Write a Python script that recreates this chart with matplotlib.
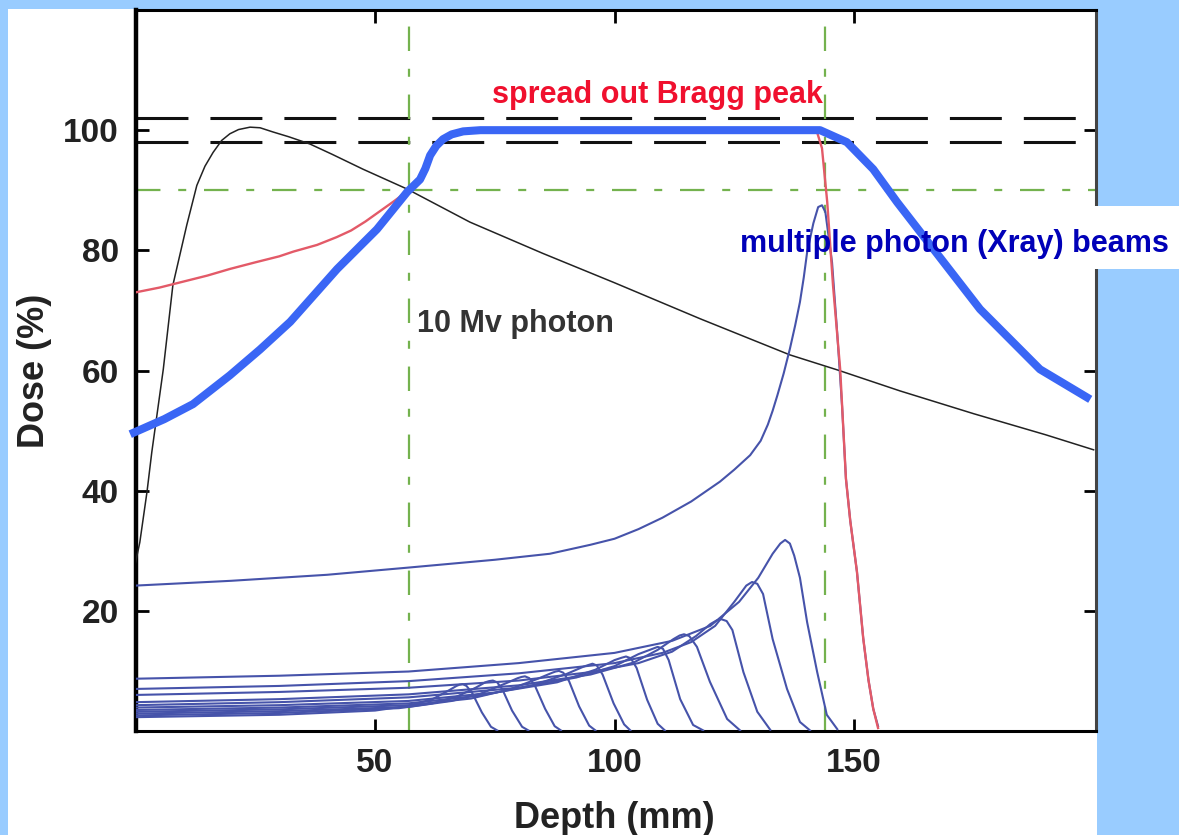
import matplotlib
matplotlib.use("Agg")
from matplotlib import pyplot as plt
from matplotlib.patches import Rectangle

# 10 MV photon depth dose
photon_depth = [0, 0.9, 2.4, 3.4, 5.8, 7.8, 10.7, 12.8, 14.5, 16.2, 18, 19.7, 21.5, 23.9, 26,
                28.7, 32, 36.4, 41, 47.5, 56.7, 69.8, 85, 100, 117.9, 136.6, 146.5, 159.6,
                175, 190, 200]
photon_dose = [28, 31.4, 39.8, 46.4, 60.2, 74.2, 84.2, 90.8, 94.0, 96.3, 98.3, 99.4, 100.1, 100.5,
               100.4, 99.7, 98.9, 97.7, 96.0, 93.5, 90.2, 84.7, 79.5, 74.6, 68.6, 62.6, 60.1,
               56.6, 52.8, 49.3, 46.8]

# spread out Bragg peak (red)
sobp_depth = [0, 5, 10, 15, 19.7, 25, 30, 33, 37.9, 42, 45, 48, 51.7, 54, 55.5, 57.5, 59, 60,
              61, 62, 63, 64, 65, 66, 67.5, 69, 80, 90, 100, 110, 120, 130, 140, 142.3, 143.3,
              144.4, 145.6, 147.1, 148.3, 149.2, 150.6, 151.9, 153, 154, 155]
sobp_dose = [73, 73.8, 74.8, 75.8, 76.9, 78, 79, 79.8, 80.9, 82.2, 83.3, 84.8, 86.9, 88.2, 89.1,
             90.3, 91.6, 93, 94.6, 96, 97.3, 98.3, 98.9, 99.4, 99.8, 100, 100, 100.2, 99.8, 100,
             100, 100, 100, 99.6, 97, 88, 74.2, 60.2, 42, 35, 26.5, 15.5, 8.5, 3.7, 0.5]

# hand drawn photon envelope (thick blue)
xray_depth = [-1.1, 6, 12.0, 19.7, 26, 32.3, 42.1, 50.4, 56.7, 59.4, 60.5, 61.5, 62.8, 64.2,
              66, 68.4, 72, 142.9, 148.5, 154, 159, 165.9, 176.3, 188.8, 199.3]
xray_dose = [49.4, 51.9, 54.4, 59.2, 63.5, 68.1, 76.9, 83.5, 89.7, 91.8, 93.6, 95.8, 97.4, 98.5,
             99.3, 99.8, 100, 100, 98.0, 93.5, 88, 80.9, 70.2, 60.2, 55.2]

# pristine Bragg peaks (thin blue), deepest first
bragg_depth = [
    [0, 20, 40, 57, 75, 86.5, 95, 100, 105, 110, 116, 122, 125, 128.3, 130.5, 132, 133, 134,
     135.3, 136.6, 137.7, 138.7, 139.5, 140.2, 141.5, 142.5, 143.3, 144, 145.4, 146.5, 147.5,
     148.3, 149.2, 150.6, 151.9, 153, 154, 155],
    [0, 30, 57, 80, 100, 112, 120, 126, 130, 133, 134.6, 135.6, 136.6, 137.5, 138.7, 140.2,
     142.3, 144.3, 146.5],
    [0, 30, 57, 80, 100, 110, 116, 121, 125, 127.5, 128.7, 129.8, 131, 133, 136, 138.7, 140.8],
    [0, 30, 57, 80, 95, 105, 112, 117, 120, 121.3, 122.3, 123.4, 124.6, 126.9, 129.8, 132.5],
    [0, 30, 57, 80, 95, 104, 109, 112.3, 113.6, 114.5, 115.6, 117.2, 119.9, 123.5, 126.2],
    [0, 30, 57, 80, 92, 100, 105, 108, 109, 110.1, 111.3, 113.7, 116.4, 118.5],
    [0, 30, 57, 75, 88, 96, 100, 101.5, 102.4, 103.4, 104.6, 106.8, 109, 110.5],
    [0, 30, 57, 72, 83, 90, 93.5, 94.6, 95.4, 96.3, 97.5, 99.8, 102, 103.3],
    [0, 30, 57, 70, 78, 84, 87, 87.7, 88.4, 89.3, 90.5, 92.6, 94.7, 96],
    [0, 30, 57, 66, 72, 77.5, 79.8, 80.6, 81.3, 82.2, 83.4, 85.5, 87.5, 88.8],
    [0, 30, 55, 62, 67, 71, 73, 73.8, 74.6, 75.5, 76.6, 78.6, 80.7, 82],
    [0, 30, 50, 57, 62, 65.5, 67, 67.6, 68.3, 69.1, 70.3, 72.3, 74.2, 75.5],
]
bragg_dose = [
    [24.2, 25.0, 26.0, 27.2, 28.5, 29.5, 31.0, 32, 33.6, 35.5, 38.2, 41.5, 43.5, 45.9, 48.3, 51,
     53.3, 55.9, 59.5, 63.6, 67.5, 71.4, 75.5, 79.7, 84.5, 87.2, 87.5, 86.4, 78, 66, 54, 42, 35,
     26.5, 15.5, 8.5, 3.7, 0.8],
    [8.7, 9.2, 9.9, 11.3, 13.0, 15.0, 17.5, 21.5, 25.5, 29.5, 31.2, 31.8, 31.2, 29.2, 25.5,
     18.1, 9.8, 2.7, 0.3],
    [7.0, 7.5, 8.3, 9.6, 11.3, 13.0, 14.8, 17.5, 21.5, 24.2, 24.8, 24.5, 22.8, 15.3, 7.0, 1.5,
     0.1],
    [6.0, 6.5, 7.2, 8.4, 9.8, 11.3, 13.2, 15.8, 17.8, 18.4, 18.6, 18.3, 16.8, 9.8, 3.2, 0.2],
    [4.8, 5.3, 6.1, 7.6, 9.4, 11.4, 13.5, 15.3, 15.9, 16.1, 15.8, 14.0, 8.2, 2.0, 0.1],
    [4.3, 4.8, 5.6, 7.2, 8.9, 10.8, 12.8, 13.7, 14.0, 13.7, 11.8, 5.3, 1.0, 0.1],
    [3.9, 4.3, 5.0, 6.4, 8.1, 10.2, 11.8, 12.2, 12.4, 12.1, 10.5, 5.2, 1.2, 0.1],
    [3.5, 3.9, 4.6, 5.9, 7.6, 9.5, 10.7, 11.0, 11.2, 10.9, 9.4, 4.6, 1.1, 0.1],
    [3.2, 3.6, 4.3, 5.4, 6.9, 8.7, 9.7, 9.9, 10.0, 9.7, 8.3, 4.1, 0.9, 0.1],
    [2.9, 3.3, 4.0, 5.0, 6.2, 8.0, 8.8, 9.0, 9.1, 8.8, 7.5, 3.7, 0.8, 0.1],
    [2.6, 3.0, 3.8, 4.6, 5.7, 7.2, 8.1, 8.3, 8.4, 8.1, 6.9, 3.4, 0.7, 0.1],
    [2.3, 2.7, 3.4, 4.2, 5.3, 6.8, 7.5, 7.7, 7.8, 7.5, 6.3, 3.1, 0.7, 0.1],
]

band_levels = [98, 102]      # black dashed
ref_dose = 90                # green dash-dot
ref_depths = [57, 144]       # green dash-dot
x_ticks = [50, 100, 150]
y_ticks = [20, 40, 60, 80, 100]

plt.rcParams['font.family'] = ['Liberation Sans', 'DejaVu Sans']
plt.rcParams['font.weight'] = 'bold'

fig = plt.figure(figsize=(11.79, 8.35), dpi=100, facecolor='#99ccff')
# white panel behind the plot
fig.patches.append(Rectangle((8 / 1179, 0), (1097 - 8) / 1179, 1 - 9 / 835,
                             transform=fig.transFigure, facecolor='white',
                             edgecolor='none', zorder=-2))

ax = fig.add_axes([135.5 / 1179, 1 - 731 / 835, (1096 - 135.5) / 1179, (731 - 10) / 835])
ax.set_xlim(0, 200.5)
ax.set_ylim(0, 120)

green = '#74b24e'
for lev in band_levels:
    ax.axhline(lev, color='#111111', lw=2.2, dashes=(17, 7.2), zorder=2)
ax.axhline(ref_dose, color=green, lw=1.6, dashes=(11, 8, 3.6, 8), zorder=2)
for d in ref_depths:
    ax.axvline(d, color=green, lw=1.6, dashes=(11, 8, 3.6, 8), zorder=2)

ax.plot(photon_depth, photon_dose, color='#222222', lw=1.1, zorder=3)

for xs, ys in zip(bragg_depth, bragg_dose):
    ax.plot(xs, ys, color='#4653aa', lw=1.5, zorder=3)

ax.plot(sobp_depth, sobp_dose, color='#e35a68', lw=1.7, zorder=4)
ax.plot(xray_depth, xray_dose, color='#3a66f5', lw=5.8, zorder=5,
        solid_capstyle='butt', solid_joinstyle='round', clip_on=False)

# white box behind the right label, covering the right spine there
ax.add_patch(Rectangle((1000 / 1179, 1 - 269 / 835), 179 / 1179, 63 / 835,
                       transform=fig.transFigure, facecolor='white', edgecolor='none',
                       clip_on=False, zorder=5.5))

ax.text(108.9, 104.5, 'spread out Bragg peak', color='#f0102e', fontsize=22,
        fontweight='bold', ha='center', va='baseline', zorder=6)
ax.text(126.2, 79.7, 'multiple photon (Xray) beams', color='#0000b8', fontsize=22,
        fontweight='bold', ha='left', va='baseline', zorder=6)
ax.text(58.8, 66.4, '10 Mv photon', color='#333333', fontsize=22,
        fontweight='bold', ha='left', va='baseline', zorder=6)

ax.set_xticks(x_ticks)
ax.set_yticks(y_ticks)
ax.tick_params(axis='both', direction='in', top=True, right=True, length=9, width=2,
               labelsize=24, pad=12, labelcolor='#222222')
for lab in ax.get_xticklabels() + ax.get_yticklabels():
    lab.set_fontweight('bold')
for side in ['top', 'right', 'bottom']:
    ax.spines[side].set_linewidth(2.2)
ax.spines['left'].set_linewidth(3.2)
ax.spines['right'].set_color('#444444')

ax.set_xlabel('Depth (mm)', fontsize=26, fontweight='bold', color='#222222')
ax.set_ylabel('Dose (%)', fontsize=26, fontweight='bold', color='#222222')
ax.xaxis.set_label_coords(0.499, -0.097)
ax.yaxis.set_label_coords(-0.087, 0.5)

fig.savefig('out.png', dpi=100, facecolor=fig.get_facecolor())
